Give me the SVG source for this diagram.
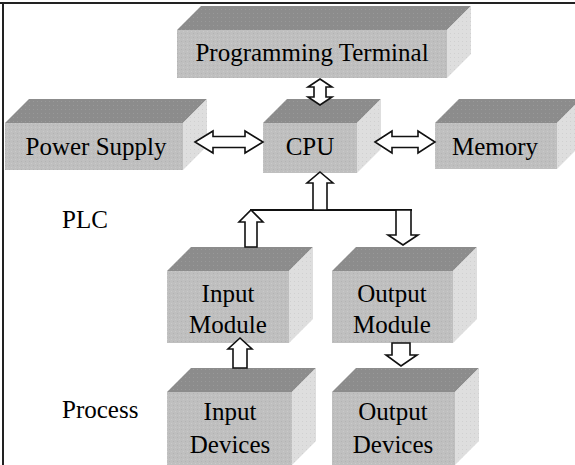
<svg xmlns="http://www.w3.org/2000/svg" width="575" height="465" viewBox="0 0 575 465">
<defs>
<pattern id="dots" width="4" height="4" patternUnits="userSpaceOnUse">
<rect width="4" height="4" fill="#bfbfbf"/>
<rect x="1" y="1" width="1" height="1" fill="#b3b3b3"/>
<rect x="3" y="3" width="1" height="1" fill="#cacaca"/>
</pattern>
<pattern id="dotsTop" width="4" height="4" patternUnits="userSpaceOnUse">
<rect width="4" height="4" fill="#8c8c8c"/>
<rect x="1" y="1" width="1" height="1" fill="#999"/>
</pattern>
<pattern id="dotsSide" width="4" height="4" patternUnits="userSpaceOnUse">
<rect width="4" height="4" fill="#dedede"/>
<rect x="2" y="1" width="1" height="1" fill="#d0d0d0"/>
</pattern>
</defs>
<style>
.front{fill:url(#dots);}
.top{fill:url(#dotsTop);}
.side{fill:url(#dotsSide);}
.lbl{font-family:"Liberation Serif","Times New Roman",serif;font-size:25px;fill:#000;}
.mid{text-anchor:middle;}
.arr{fill:#fff;stroke:#111;stroke-width:1.6;stroke-linejoin:miter;}
.bus{stroke:#111;stroke-width:2;fill:none;}
</style>
<rect width="575" height="465" fill="#fff"/>
<line x1="0" y1="3" x2="575" y2="3" stroke="#222" stroke-width="2"/>
<line x1="3" y1="3" x2="3" y2="465" stroke="#222" stroke-width="2"/>

<g id="programming-terminal">
<polygon class="top" points="177,30 201,6 471,6 447,30"/>
<polygon class="side" points="447,30 471,6 471,54 447,78"/>
<rect class="front" x="177" y="30" width="270" height="48"/>
<text class="lbl mid" x="312" y="61">Programming Terminal</text>
</g>

<g id="power-supply">
<polygon class="top" points="5,123 29,99 207,99 183,123"/>
<polygon class="side" points="183,123 207,99 207,146 183,170"/>
<rect class="front" x="5" y="123" width="178" height="47"/>
<text class="lbl mid" x="96" y="155">Power Supply</text>
</g>

<g id="cpu">
<polygon class="top" points="263,123 287,99 381,99 357,123"/>
<polygon class="side" points="357,123 381,99 381,149 357,173"/>
<rect class="front" x="263" y="123" width="94" height="50"/>
<text class="lbl mid" x="310" y="155">CPU</text>
</g>

<g id="memory">
<polygon class="top" points="435,123 459,99 581,99 557,123"/>
<polygon class="side" points="557,123 581,99 581,145 557,169"/>
<rect class="front" x="435" y="123" width="122" height="46"/>
<text class="lbl mid" x="495" y="155">Memory</text>
</g>

<g id="input-module">
<polygon class="top" points="167,271 191,247 313,247 289,271"/>
<polygon class="side" points="289,271 313,247 313,319 289,343"/>
<rect class="front" x="167" y="271" width="122" height="72"/>
<text class="lbl mid" x="228" y="302">Input</text>
<text class="lbl mid" x="228" y="333">Module</text>
</g>

<g id="output-module">
<polygon class="top" points="332,271 356,247 477,247 453,271"/>
<polygon class="side" points="453,271 477,247 477,319 453,343"/>
<rect class="front" x="332" y="271" width="121" height="72"/>
<text class="lbl mid" x="392" y="302">Output</text>
<text class="lbl mid" x="392" y="333">Module</text>
</g>

<g id="input-devices">
<polygon class="top" points="167,392 191,368 316,368 292,392"/>
<polygon class="side" points="292,392 316,368 316,441 292,465"/>
<rect class="front" x="167" y="392" width="125" height="73"/>
<text class="lbl mid" x="230" y="420">Input</text>
<text class="lbl mid" x="230" y="453">Devices</text>
</g>

<g id="output-devices">
<polygon class="top" points="332,392 356,368 479,368 455,392"/>
<polygon class="side" points="455,392 479,368 479,441 455,465"/>
<rect class="front" x="332" y="392" width="123" height="73"/>
<text class="lbl mid" x="393" y="420">Output</text>
<text class="lbl mid" x="393" y="453">Devices</text>
</g>

<g id="labels">
<text class="lbl" x="62" y="228">PLC</text>
<text class="lbl" x="62" y="418">Process</text>
</g>

<g id="connectors">
<polygon class="arr" points="195,142 213,131 213,136.5 245,136.5 245,131 263,142 245,153 245,147.5 213,147.5 213,153"/>
<polygon class="arr" points="375,142 392,131 392,136.5 418,136.5 418,131 435,142 418,153 418,147.5 392,147.5 392,153"/>
<polygon class="arr" points="320,79 332,87 326,87 326,97 332,97 320,105 308,97 314,97 314,87 308,87"/>
<line class="bus" x1="250" y1="210" x2="412" y2="210"/>
<polygon class="arr" points="320,172 333,183 327,183 327,210 313,210 313,183 307,183"/>
<polygon class="arr" points="251,210 263,222 257,222 257,247 245,247 245,222 239,222"/>
<polygon class="arr" points="396,210 411,210 411,235 418,235 403,245 388,235 396,235"/>
<polygon class="arr" points="240,338 252,349 247,349 247,368 233,368 233,349 228,349"/>
<polygon class="arr" points="392,343 410,343 410,355 417,355 401,366 386,355 392,355"/>
</g>
</svg>
